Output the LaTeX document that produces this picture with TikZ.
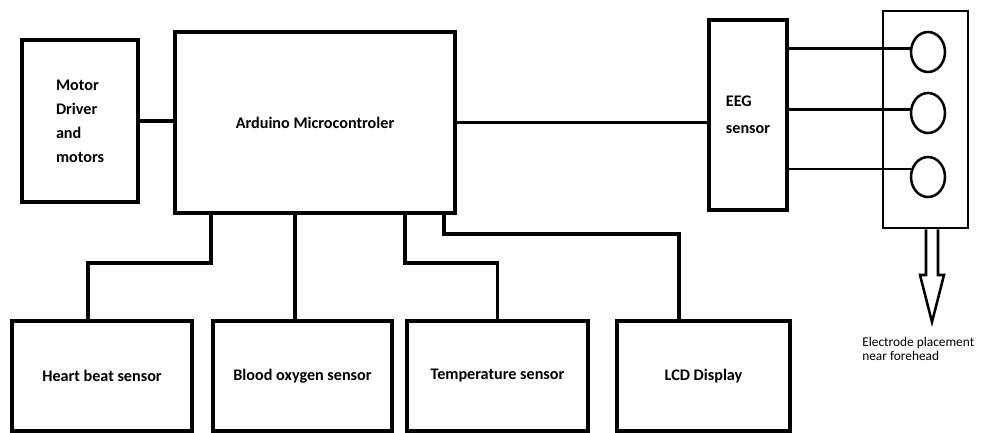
\documentclass[tikz,border=0pt]{standalone}
\usepackage{fontspec}
\setmainfont{Carlito}
\usetikzlibrary{positioning,calc,shapes.geometric}

\begin{document}
\begin{tikzpicture}[
  x=0.25mm,y=-0.25mm,
  box/.style={draw,line width=2.8pt,inner sep=0pt,font=\fontsize{11.5}{17}\selectfont\bfseries,align=center},
  wire/.style={line width=2.8pt},
  lead/.style={line width=2pt},
  pad/.style={draw,ellipse,line width=1.8pt,inner sep=0pt,minimum width=8.5mm,minimum height=10mm}]
\useasboundingbox (0,0) rectangle (982,433);
\node[box,align=left,minimum width=29mm,minimum height=40.5mm] (motor) at (80,121) {Motor\\Driver\\and\\motors};
\node[box,minimum width=70mm,minimum height=45.25mm] (arduino) at (315,122.5) {Arduino Microcontroler};
\node[box,align=left,font=\fontsize{11.5}{19}\selectfont\bfseries,minimum width=19.5mm,minimum height=47.5mm] (eeg) at (748,115) {EEG\\sensor};
\node[draw,line width=2pt,inner sep=0pt,minimum width=21.25mm,minimum height=54.25mm] (elec) at (925.5,119.5) {};
\node[pad] (e1) at (928,52) {};
\node[pad] (e2) at (928,113) {};
\node[pad] (e3) at (928,177) {};
\node[box,minimum width=45mm,minimum height=27.5mm] (heart) at (102,376) {Heart beat sensor};
\node[box,minimum width=44.75mm,minimum height=27.5mm] (blood) at (302.5,376) {Blood oxygen sensor};
\node[box,minimum width=45.25mm,minimum height=27.5mm] (temp) at (497.5,376) {Temperature sensor};
\node[box,minimum width=43.25mm,minimum height=27.5mm] (lcd) at (703.5,376) {LCD Display};
\node[font=\fontsize{9.5}{10}\selectfont,align=left,anchor=north west,inner sep=0pt] (note) at (862,337) {Electrode placement\\near forehead};
% links to the controller
\draw[wire] (motor.east) -- (motor.east -| arduino.west);
\draw[wire] (arduino.east) -- (arduino.east -| eeg.west);
\draw[wire] (arduino.south -| 211,0) |- (88,263) -- (88,0 |- heart.north);
\draw[wire] (arduino.south -| 295,0) -- (blood.north -| 295,0);
\draw[wire] (arduino.south -| 405,0) |- (temp.north |- 0,263) -- (temp.north);
\draw[wire] (arduino.south -| 444,0) |- (679,234) -- (lcd.north -| 679,0);
% electrode leads
\draw[lead] (eeg.east |- e1.170) -- (e1.170);
\draw[lead] (eeg.east |- e2.170) -- (e2.170);
\draw[lead] (eeg.east |- e3.155) -- (e3.155);
% hollow arrow
\draw[line width=1.8pt,fill=white] (elec.south -| 926,0) -- (926,275) -- (920,275) -- (932,322) -- (944,275) -- (938,275) -- (elec.south -| 938,0);
\end{tikzpicture}
\end{document}
